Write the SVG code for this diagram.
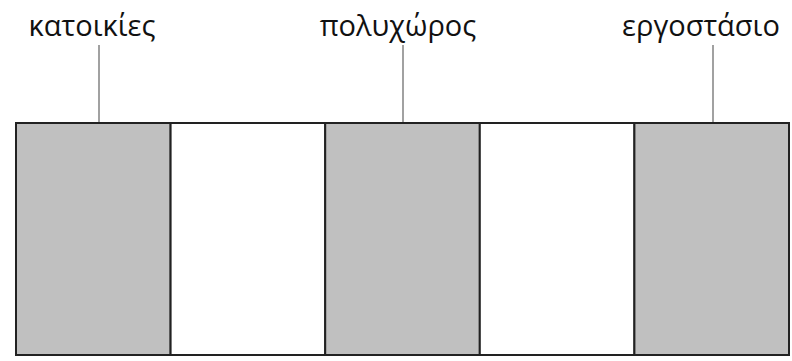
<svg xmlns="http://www.w3.org/2000/svg" width="792" height="361" viewBox="0 0 792 361">
<style>
.lbl{font-family:"Open Sans","Noto Sans",sans-serif;font-size:29px;fill:#111;text-anchor:middle}
.lead{stroke:#8a8a8a;stroke-width:1.6;fill:none}
.cell{stroke:#222;stroke-width:2}
.g{fill:#c0c0c0}
.w{fill:#fff}
</style>
<rect width="792" height="361" fill="#fff"/>
<g id="connectors">
<line class="lead" x1="99" y1="45" x2="99" y2="123"/>
<line class="lead" x1="403" y1="45" x2="403" y2="123"/>
<line class="lead" x1="713" y1="45" x2="713" y2="123"/>
</g>
<g id="cell1"><rect class="cell g" x="16" y="123" width="154.6" height="232"/></g>
<g id="cell2"><rect class="cell w" x="170.6" y="123" width="154.6" height="232"/></g>
<g id="cell3"><rect class="cell g" x="325.2" y="123" width="154.6" height="232"/></g>
<g id="cell4"><rect class="cell w" x="479.8" y="123" width="154.6" height="232"/></g>
<g id="cell5"><rect class="cell g" x="634.4" y="123" width="154.6" height="232"/></g>
<g id="label1"><text class="lbl" x="92" y="36">κατοικίες</text></g>
<g id="label2"><text class="lbl" x="398" y="36">πολυχώρος</text></g>
<g id="label3"><text class="lbl" x="701" y="36">εργοστάσιο</text></g>
</svg>
